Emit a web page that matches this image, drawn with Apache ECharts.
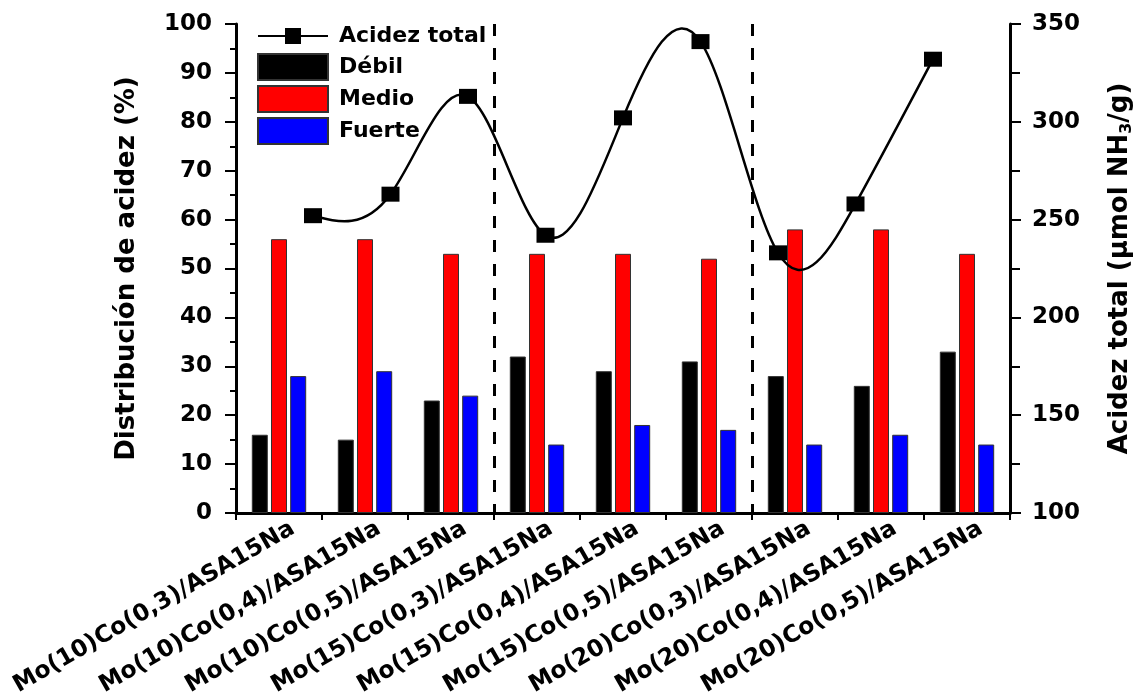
<!DOCTYPE html>
<html>
<head>
<meta charset="utf-8">
<script src="https://cdn.jsdelivr.net/npm/echarts@6/dist/echarts.min.js"></script>
<style>html,body{margin:0;padding:0;background:#fff}#c{width:1142px;height:696px}</style>
</head>
<body>
<div id="c"></div>
<script>
const categories = ['Mo(10)Co(0,3)/ASA15Na','Mo(10)Co(0,4)/ASA15Na','Mo(10)Co(0,5)/ASA15Na',
  'Mo(15)Co(0,3)/ASA15Na','Mo(15)Co(0,4)/ASA15Na','Mo(15)Co(0,5)/ASA15Na',
  'Mo(20)Co(0,3)/ASA15Na','Mo(20)Co(0,4)/ASA15Na','Mo(20)Co(0,5)/ASA15Na'];
const debil = [16, 15, 23, 32, 29, 31, 28, 26, 33];
const medio = [56, 56, 53, 53, 53, 52, 58, 58, 53];
const fuerte = [28, 29, 24, 14, 18, 17, 14, 16, 14];
const acidezTotal = [252, 263, 313, 242, 302, 341, 233, 258, 332];
const groupBoundaries = [3, 6];
const leftAxis = {min: 0, max: 100, interval: 10};
const rightAxis = {min: 100, max: 350, interval: 50};

const FF = 'DejaVu Sans';
const chart = echarts.init(document.getElementById('c'), null, {renderer: 'canvas'});
const lineIcon = 'path://M0,12H27V5H43V12H70V14H43V21H27V14H0Z M35,0L35.05,0L35,0.05Z M35,26L35.05,26L35,25.95Z';
const axisLineStyle = {color: '#000', width: 3};

// natural cubic spline through pixel points (drawn by the custom series)
function splinePath(pts) {
  const n = pts.length;
  const h = [], M = new Array(n).fill(0);
  for (let i = 0; i < n - 1; i++) h.push(pts[i + 1][0] - pts[i][0]);
  if (n > 2) {
    const a = [], b = [], c = [], d = [];
    for (let i = 1; i < n - 1; i++) {
      a.push(h[i - 1]); b.push(2 * (h[i - 1] + h[i])); c.push(h[i]);
      d.push(6 * ((pts[i + 1][1] - pts[i][1]) / h[i] - (pts[i][1] - pts[i - 1][1]) / h[i - 1]));
    }
    const m = b.length;
    for (let i = 1; i < m; i++) {
      const w = a[i] / b[i - 1];
      b[i] -= w * c[i - 1]; d[i] -= w * d[i - 1];
    }
    const sol = new Array(m);
    sol[m - 1] = d[m - 1] / b[m - 1];
    for (let i = m - 2; i >= 0; i--) sol[i] = (d[i] - c[i] * sol[i + 1]) / b[i];
    for (let i = 0; i < m; i++) M[i + 1] = sol[i];
  }
  let p = 'M' + pts[0][0] + ',' + pts[0][1];
  for (let i = 0; i < n - 1; i++) {
    const hi = h[i], y0 = pts[i][1], y1 = pts[i + 1][1];
    const s = (y1 - y0) / hi;
    const d0 = s - hi * (2 * M[i] + M[i + 1]) / 6;
    const d1 = s + hi * (M[i] + 2 * M[i + 1]) / 6;
    p += 'C' + (pts[i][0] + hi / 3) + ',' + (y0 + d0 * hi / 3) + ',' +
         (pts[i + 1][0] - hi / 3) + ',' + (y1 - d1 * hi / 3) + ',' +
         pts[i + 1][0] + ',' + y1;
  }
  return p;
}

chart.setOption({
  animation: false,
  backgroundColor: '#fff',
  legend: {
    orient: 'vertical', left: 252, top: 18, itemWidth: 70, itemHeight: 26, itemGap: 4,
    textStyle: {fontFamily: FF, fontWeight: 'bold', fontSize: 22, color: '#000', padding: [0, 0, 0, 6]},
    data: [{name: 'Acidez total', icon: lineIcon}, {name: 'Débil', icon: 'rect'},
           {name: 'Medio', icon: 'rect'}, {name: 'Fuerte', icon: 'rect'}]
  },
  grid: [
    {left: 236, right: 132, top: 24, bottom: 183, containLabel: false, outerBoundsMode: 'none'},
    {left: 313, right: 209, top: 24, bottom: 183, containLabel: false, outerBoundsMode: 'none'}
  ],
  xAxis: [
    {
      type: 'category', data: categories, gridIndex: 0,
      axisLine: {lineStyle: axisLineStyle},
      axisTick: {show: true, interval: 0, length: 7, lineStyle: {color: '#000', width: 2}},
      axisLabel: {interval: 0, rotate: 30, fontFamily: FF, fontWeight: 'bold', fontSize: 23.5, color: '#000',
        margin: 22, padding: [0, -16, 0, 0]},
      splitLine: {show: true, interval: (i) => groupBoundaries.includes(i),
        lineStyle: {color: '#000', width: 3, type: [12, 12]}}
    },
    {type: 'category', data: categories, gridIndex: 1, boundaryGap: false, show: false}
  ],
  yAxis: [
    {
      type: 'value', gridIndex: 0, position: 'left', min: leftAxis.min, max: leftAxis.max, interval: leftAxis.interval,
      name: 'Distribución de acidez (%)', nameLocation: 'middle', nameGap: 96, nameRotate: 90,
      nameTextStyle: {fontFamily: FF, fontWeight: 'bold', fontSize: 26, color: '#000'},
      axisLine: {show: true, lineStyle: axisLineStyle},
      axisTick: {show: true, length: 11, lineStyle: {color: '#000', width: 2}},
      minorTick: {show: true, splitNumber: 2, length: 6, lineStyle: {color: '#000', width: 2}},
      axisLabel: {fontFamily: FF, fontWeight: 'bold', fontSize: 23, color: '#000', margin: 24},
      splitLine: {show: false}
    },
    {
      type: 'value', gridIndex: 0, position: 'right', min: rightAxis.min, max: rightAxis.max, interval: rightAxis.interval,
      name: '{a|Acidez total (μmol NH}{s|3}{a|/g)}', nameLocation: 'middle', nameGap: 95, nameRotate: 90,
      nameTextStyle: {
        rich: {
          a: {fontFamily: FF, fontWeight: 'bold', fontSize: 26, color: '#000'},
          s: {fontFamily: FF, fontWeight: 'bold', fontSize: 16, color: '#000', padding: [14, 0, 0, 0]}
        }
      },
      axisLine: {show: true, lineStyle: axisLineStyle},
      axisTick: {show: true, length: 11, lineStyle: {color: '#000', width: 2}},
      minorTick: {show: true, splitNumber: 2, length: 10, lineStyle: {color: '#000', width: 2}},
      axisLabel: {fontFamily: FF, fontWeight: 'bold', fontSize: 23, color: '#000', margin: 22},
      splitLine: {show: false}
    },
    {type: 'value', gridIndex: 1, min: rightAxis.min, max: rightAxis.max, show: false, splitLine: {show: false}}
  ],
  series: [
    {name: 'Débil', type: 'bar', data: debil, barWidth: 16, barGap: '20%',
      itemStyle: {color: '#000', borderColor: '#333', borderWidth: 1}},
    {name: 'Medio', type: 'bar', data: medio, barWidth: 16, barGap: '20%',
      itemStyle: {color: '#ff0000', borderColor: '#333', borderWidth: 1}},
    {name: 'Fuerte', type: 'bar', data: fuerte, barWidth: 16, barGap: '20%',
      itemStyle: {color: '#0000ff', borderColor: '#333', borderWidth: 1}},
    {name: 'Acidez total curve', type: 'custom', xAxisIndex: 1, yAxisIndex: 2, z: 9, silent: true,
      data: acidezTotal.map((v, i) => [categories[i], v]),
      clip: false,
      renderItem: function (params, api) {
        if (params.dataIndexInside !== 0) return null;
        const pts = [];
        for (let i = 0; i < acidezTotal.length; i++) {
          pts.push(api.coord([api.value(0, i), api.value(1, i)]));
        }
        return {type: 'path', shape: {pathData: splinePath(pts)},
          style: {stroke: '#000', lineWidth: 2.5, fill: 'none'}};
      }},
    {name: 'Acidez total', type: 'line', xAxisIndex: 1, yAxisIndex: 2, data: acidezTotal,
      symbol: 'rect', symbolSize: [18, 15], z: 10,
      lineStyle: {color: '#000', width: 0, opacity: 0}, itemStyle: {color: '#000', borderWidth: 0}}
  ]
});
</script>
</body>
</html>
